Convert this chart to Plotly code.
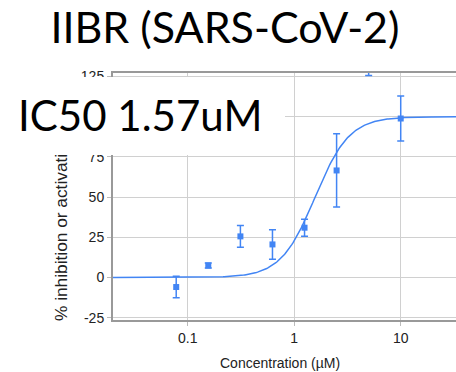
import numpy as np
import plotly.graph_objects as go

# ---- data ----
concentration_uM = [0.078, 0.156, 0.3125, 0.625, 1.25, 2.5, 5, 10]
pct_inhibition = [-5.9, 7.5, 25.6, 20.6, 31.0, 66.6, 139.0, 98.9]
pct_error = [6.7, 1.5, 6.8, 9.2, 5.3, 22.8, 13.4, 14.0]

# fitted dose-response parameters (IC50 given on the chart)
fit_bottom = 0.0
fit_top = 100.0
fit_ic50 = 1.57
fit_hill = 2.7

x_tick_vals = [0.1, 1, 10]
x_tick_text = ["0.1", "1", "10"]
y_tick_vals = [-25, 0, 25, 50, 75, 100, 125]
y_tick_text = ["-25", "0", "25", "50", "75", "", "125"]  # 100 is hidden behind the IC50 label

title_text = "IIBR (SARS-CoV-2)"
ic50_text = "IC50 1.57uM"
x_title = "Concentration (µM)"
y_title = "% inhibition or activation"

# ---- layout geometry ----
W, H = 456, 372
ML, MR, MT, MB = 113, 0, 73, 52
PW, PH = W - ML - MR, H - MT - MB
x_range = [-1.7014, 1.519]
y_range = [-26.4, 127.2]

BLUE = "#4285F4"
FONT = "Arial, Liberation Sans, sans-serif"


def px_to_paper_x(px):
    return (px - ML) / PW


def px_to_paper_y(py):
    return (H - MB - py) / PH


fit_x = np.logspace(x_range[0], x_range[1], 300)
fit_y = fit_bottom + (fit_top - fit_bottom) / (1 + (fit_ic50 / fit_x) ** fit_hill)

fig = go.Figure()
fig.add_trace(go.Scatter(
    x=fit_x, y=fit_y, mode="lines",
    line=dict(color=BLUE, width=1.5), hoverinfo="skip", showlegend=False))
fig.add_trace(go.Scatter(
    x=concentration_uM, y=pct_inhibition, mode="markers",
    marker=dict(symbol="square", size=6, color=BLUE),
    error_y=dict(type="data", array=pct_error, visible=True,
                 color=BLUE, thickness=1.5, width=3.5),
    showlegend=False))

annotations = [
    # y axis title (partly hidden by the IC50 box, as in the original)
    dict(text=y_title, textangle=-90, xref="paper", yref="paper",
         x=px_to_paper_x(61), y=px_to_paper_y(323), xanchor="center", yanchor="bottom",
         showarrow=False, font=dict(family=FONT, size=17.3, color="#222222")),
    # x axis title
    dict(text=x_title, xref="paper", yref="paper",
         x=px_to_paper_x(280), y=px_to_paper_y(363), xanchor="center", yanchor="middle",
         showarrow=False, font=dict(family=FONT, size=14, color="#222222")),
    # white box behind the IC50 label
    dict(text=" ", xref="paper", yref="paper",
         x=px_to_paper_x(0), y=px_to_paper_y(77), xanchor="left", yanchor="top",
         width=285, height=78, bgcolor="white", borderpad=0, borderwidth=0,
         showarrow=False),
    # IC50 label
    dict(text=ic50_text, xref="paper", yref="paper",
         x=px_to_paper_x(16), y=px_to_paper_y(115), xanchor="left", yanchor="middle",
         showarrow=False, font=dict(family="Lato", size=42, color="black")),
]

fig.update_layout(
    width=W, height=H,
    margin=dict(l=ML, r=MR, t=MT, b=MB, pad=0),
    paper_bgcolor="white", plot_bgcolor="white",
    title=dict(text=title_text, x=225 / W, xanchor="center",
               y=1 - 28 / H, yanchor="middle",
               font=dict(family="Lato", size=43, color="black")),
    annotations=annotations,
    xaxis=dict(type="log", range=x_range, tickvals=x_tick_vals, ticktext=x_tick_text,
               showgrid=True, gridcolor="#d0d0d0", gridwidth=1,
               showline=True, linecolor="#999999", linewidth=2, mirror=True,
               ticks="outside", ticklen=4, tickcolor="#bbbbbb",
               tickfont=dict(family=FONT, size=14, color="#222222"),
               zeroline=False),
    yaxis=dict(range=y_range, tickvals=y_tick_vals, ticktext=y_tick_text,
               showgrid=True, gridcolor="#d0d0d0", gridwidth=1,
               showline=True, linecolor="#999999", linewidth=2, mirror=False,
               ticks="outside", ticklen=4, tickcolor="#bbbbbb",
               tickfont=dict(family=FONT, size=14, color="#222222"),
               zeroline=False),
)

fig.write_html("out.html", config={"displayModeBar": False},
               post_script="document.body.style.margin='0';document.body.style.overflow='hidden';")
